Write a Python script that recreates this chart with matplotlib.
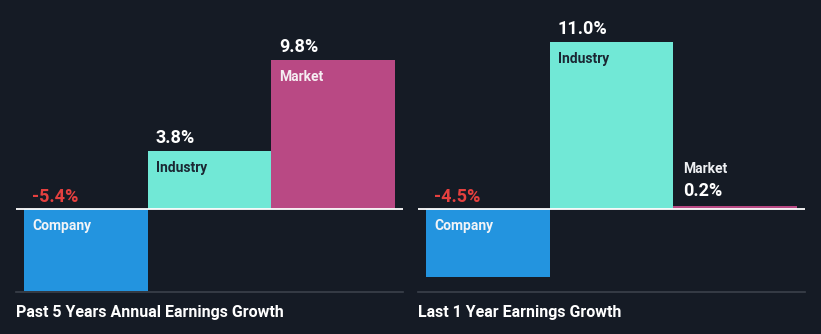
import matplotlib.pyplot as plt

plt.rcParams['font.family'] = ['Roboto', 'DejaVu Sans']

# vrijednosti rasta zarade (%)
kategorije = ["Company", "Industry", "Market"]
rast_5g = [-5.4, 3.8, 9.8]
rast_1g = [-4.5, 11.0, 0.2]
naslovi = ["Past 5 Years Annual Earnings Growth", "Last 1 Year Earnings Growth"]

pozadina = '#151b25'
boje = ['#2394df', '#71e8d6', '#b94984']
boje_natpisa = ['#f2f4f7', '#1b2733', '#f5eef2']
crvena = '#e5403f'

W, H = 821, 334
fig = plt.figure(figsize=(W / 100, H / 100), dpi=100, facecolor=pozadina)

ylim = (-5.46, 13.75)
px = 0.72  # 1 px u tackama

paneli = [(16, rast_5g, naslovi[0]), (418, rast_1g, naslovi[1])]
for x0, vrijednosti, naslov in paneli:
    ax = fig.add_axes([x0 / W, 42 / H, 387 / W, 292 / H])
    ax.set_facecolor(pozadina)
    ax.bar(range(3), vrijednosti, width=1.0, color=boje, align='center', zorder=2)
    ax.set_xlim(-0.565, 2.565)
    ax.set_ylim(*ylim)
    ax.axhline(0, color='white', lw=1.3, zorder=3)
    for s in ['top', 'left', 'right']:
        ax.spines[s].set_visible(False)
    ax.spines['bottom'].set_color('#3b414b')
    ax.spines['bottom'].set_linewidth(1.2)
    ax.set_xticks([])
    ax.set_yticks([])

    for i, v in enumerate(vrijednosti):
        lijevo = i - 0.5
        tekst = f"{v:.1f}%"
        if v < 0:
            ax.annotate(tekst, (lijevo, 0), xytext=(8 * px, 7 * px), textcoords='offset points',
                        color=crvena, fontsize=13, fontweight='bold', va='baseline', ha='left')
            ax.annotate(kategorije[i], (lijevo, 0), xytext=(8 * px, -10 * px), textcoords='offset points',
                        color=boje_natpisa[i], fontsize=10, fontweight='bold', va='top', ha='left')
        elif v > 2:
            ax.annotate(tekst, (lijevo, v), xytext=(8 * px, 8 * px), textcoords='offset points',
                        color='white', fontsize=13, fontweight='bold', va='baseline', ha='left')
            ax.annotate(kategorije[i], (lijevo, v), xytext=(8 * px, -10 * px), textcoords='offset points',
                        color=boje_natpisa[i], fontsize=10, fontweight='bold', va='top', ha='left')
        else:
            ax.annotate(tekst, (lijevo, v), xytext=(10 * px, 10 * px), textcoords='offset points',
                        color='white', fontsize=13, fontweight='bold', va='baseline', ha='left')
            ax.annotate(kategorije[i], (lijevo, v), xytext=(10 * px, 33 * px), textcoords='offset points',
                        color='#eef0f3', fontsize=10, fontweight='bold', va='baseline', ha='left')

    fig.text(x0 / W, (H - 312) / H, naslov, color='white', fontsize=11.5,
             fontweight='bold', va='center', ha='left')

fig.savefig('out.png', dpi=100, facecolor=pozadina)
